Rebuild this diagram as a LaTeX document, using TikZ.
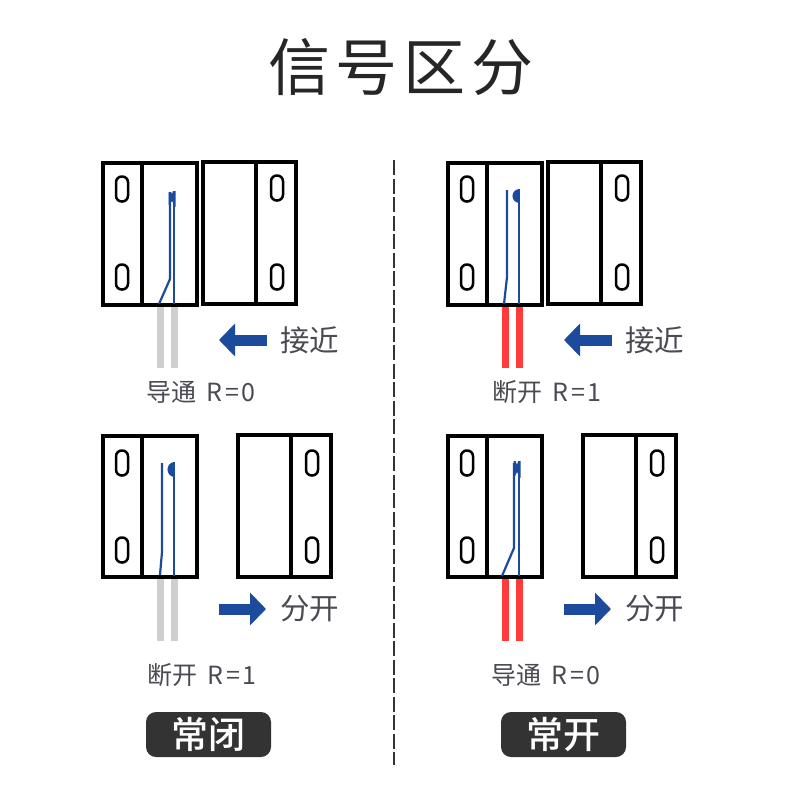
\documentclass[tikz,border=0pt]{standalone}
\usepackage{fontspec}
\setmainfont{Noto Sans CJK SC}
\newfontfamily\badgefont{Noto Sans CJK SC Medium}
\usetikzlibrary{arrows.meta}
\definecolor{BodyBlack}{HTML}{000000}
\definecolor{ReedBlue}{HTML}{1C4A9C}
\definecolor{WireGray}{HTML}{CFCFCF}
\definecolor{WireRed}{HTML}{FF3B3B}
\definecolor{TextGray}{HTML}{4A4A52}
\definecolor{BadgeDark}{HTML}{333333}
\tikzset{%
  bodybox/.style={draw=BodyBlack,line width=4.3pt,fill=white,inner sep=0pt,
    minimum width=94pt,minimum height=142pt},
  bodyline/.style={BodyBlack,line width=4.3pt},
  slot/.style={draw=BodyBlack,line width=2.5pt,rounded corners=5.8pt,inner sep=0pt,
    minimum width=12pt,minimum height=25pt},
  wiregray/.style={WireGray,line width=7pt},
  wirered/.style={WireRed,line width=7pt},
  reed/.style={ReedBlue,line width=2.2pt},
  tipfill/.style={fill=ReedBlue,draw=none},
  moveflow/.style={-{Triangle[length=16pt,width=32pt]},line width=11pt,ReedBlue},
  motion/.style={text=TextGray,inner sep=0pt,font=\fontsize{29.5}{32}\selectfont},
  state/.style={text=TextGray,inner sep=0pt,font=\fontsize{25}{28}\selectfont},
  badge/.style={fill=BadgeDark,text=white,rounded corners=10pt,inner sep=0pt,
    minimum width=125pt,minimum height=45pt,font=\badgefont\fontsize{37}{40}\selectfont}
}
\begin{document}
\begin{tikzpicture}[x=1pt,y=-1pt]
  \useasboundingbox (0,0) rectangle (800,800);
  \node[inner sep=0pt,font=\fontsize{62}{66}\selectfont,text=black!85] (title) at (401,67)
    {信\hspace{6pt}号\hspace{6pt}区\hspace{6pt}分};
  \coordinate (splittop) at (394,160);
  \coordinate (splitbot) at (394,765);
  \draw[black!80,line width=1.8pt,dash pattern=on 15pt off 3.5pt] (splittop) -- (splitbot);

  % normally closed, near
  \draw[wiregray] (160,306) -- (160,368);
  \draw[wiregray] (174,306) -- (174,368);
  \node[bodybox] (ncnear) at (150,234) {};
  \node[bodybox,minimum width=93pt] (ncnearmag) at (249.5,233) {};
  \draw[bodyline] ([xshift=-8pt]ncnear.north) -- ([xshift=-8pt]ncnear.south);
  \draw[bodyline] ([xshift=6.5pt]ncnearmag.north) -- ([xshift=6.5pt]ncnearmag.south);
  \node[slot] (ncnearsa) at (122,189) {};
  \node[slot] (ncnearsb) at (122,277) {};
  \node[slot] (ncnearsc) at (277,188) {};
  \node[slot] (ncnearsd) at (277,277) {};
  \draw[reed] (159,304) -- (170,279) -- (170,193);
  \draw[reed] (174,304) -- (174,191);
  \fill[tipfill] (168.5,192) -- (171,192) -- (172,194) -- (173,191) -- (175.5,191)
    -- (175.5,207) -- (172,201) -- (168.5,205) -- cycle;
  \draw[moveflow] (267,340) -- (219,340);
  \node[motion] (ncnearmove) at (309.5,340) {接近};
  \node[state] (ncnearstate) at (201,392) {导通\hspace{4.5pt} R\hspace{2.5pt}=\hspace{2.5pt}0};

  % normally closed, apart
  \draw[wiregray] (160,578) -- (160,641);
  \draw[wiregray] (174,578) -- (174,641);
  \node[bodybox,minimum height=141pt] (ncapart) at (150,506.5) {};
  \node[bodybox,minimum width=93pt] (ncapartmag) at (284.5,506) {};
  \draw[bodyline] ([xshift=-8pt]ncapart.north) -- ([xshift=-8pt]ncapart.south);
  \draw[bodyline] ([xshift=6.5pt]ncapartmag.north) -- ([xshift=6.5pt]ncapartmag.south);
  \node[slot] (ncapartsa) at (122,463) {};
  \node[slot] (ncapartsb) at (122,550) {};
  \node[slot] (ncapartsc) at (312,463) {};
  \node[slot] (ncapartsd) at (312,550) {};
  \draw[reed] (160,575) -- (162,552) -- (162,463);
  \draw[reed] (174,576) -- (174,462);
  \fill[tipfill] (175,462) .. controls (165,462) and (165,477) .. (175,477) -- cycle;
  \draw[moveflow] (219,609) -- (266,609);
  \node[motion] (ncapartmove) at (309.5,609) {分开};
  \node[state] (ncapartstate) at (202,675) {断开\hspace{4.5pt} R\hspace{2.5pt}=\hspace{2.5pt}1};
  \node[badge] (ncbadge) at (208.5,734.5) {常闭};

  \begin{scope}[shift={(345,0)}]
    % normally open, near
    \draw[wirered] (160,306) -- (160,368);
    \draw[wirered] (174,306) -- (174,368);
    \node[bodybox] (nonear) at (150,234) {};
    \node[bodybox,minimum width=93pt] (nonearmag) at (249.5,233) {};
    \draw[bodyline] ([xshift=-8pt]nonear.north) -- ([xshift=-8pt]nonear.south);
    \draw[bodyline] ([xshift=6.5pt]nonearmag.north) -- ([xshift=6.5pt]nonearmag.south);
    \node[slot] (nonearsa) at (122,189) {};
    \node[slot] (nonearsb) at (122,277) {};
    \node[slot] (nonearsc) at (277,188) {};
    \node[slot] (nonearsd) at (277,277) {};
    \draw[reed] (159,304) -- (162,277) -- (162,190);
    \draw[reed] (174,304) -- (174,189);
    \fill[tipfill] (175,189) .. controls (165,189) and (165,203) .. (175,203) -- cycle;
    \draw[moveflow] (267,340) -- (219,340);
    \node[motion] (nonearmove) at (309.5,340) {接近};
    \node[state] (nonearstate) at (202,392) {断开\hspace{4.5pt} R\hspace{2.5pt}=\hspace{2.5pt}1};

    % normally open, apart
    \draw[wirered] (160,578) -- (160,641);
    \draw[wirered] (174,578) -- (174,641);
    \node[bodybox,minimum height=141pt] (noapart) at (150,506.5) {};
    \node[bodybox,minimum width=93pt] (noapartmag) at (284.5,506) {};
    \draw[bodyline] ([xshift=-8pt]noapart.north) -- ([xshift=-8pt]noapart.south);
    \draw[bodyline] ([xshift=6.5pt]noapartmag.north) -- ([xshift=6.5pt]noapartmag.south);
    \node[slot] (noapartsa) at (122,463) {};
    \node[slot] (noapartsb) at (122,550) {};
    \node[slot] (noapartsc) at (312,463) {};
    \node[slot] (noapartsd) at (312,550) {};
    \draw[reed] (157,576) -- (169,548) -- (169,463);
    \draw[reed] (174,576) -- (174,461);
    \fill[tipfill] (168.5,461) -- (170.5,461) -- (172,465) -- (173,461) -- (175.5,461)
      -- (175.5,478) -- (172,472) -- (168.5,479) -- cycle;
    \draw[moveflow] (219,609) -- (266,609);
    \node[motion] (noapartmove) at (309.5,609) {分开};
    \node[state] (noapartstate) at (201,675) {导通\hspace{4.5pt} R\hspace{2.5pt}=\hspace{2.5pt}0};
    \node[badge] (nobadge) at (218.5,734.5) {常开};
  \end{scope}
\end{tikzpicture}
\end{document}
